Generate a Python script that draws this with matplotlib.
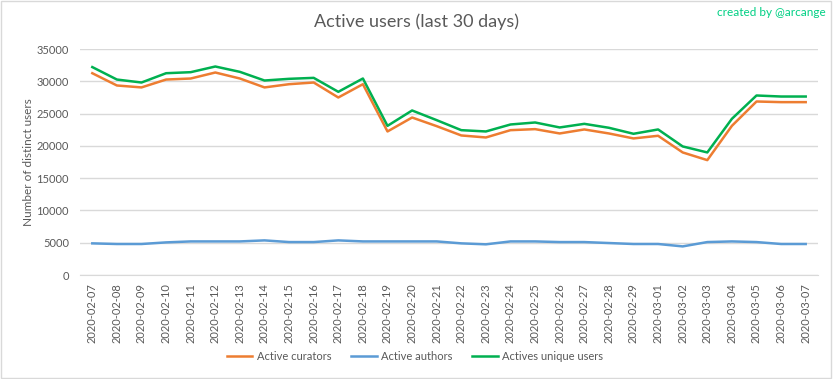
import matplotlib.pyplot as plt
from matplotlib.patches import Rectangle

dates = ["2020-02-07", "2020-02-08", "2020-02-09", "2020-02-10", "2020-02-11",
         "2020-02-12", "2020-02-13", "2020-02-14", "2020-02-15", "2020-02-16",
         "2020-02-17", "2020-02-18", "2020-02-19", "2020-02-20", "2020-02-21",
         "2020-02-22", "2020-02-23", "2020-02-24", "2020-02-25", "2020-02-26",
         "2020-02-27", "2020-02-28", "2020-02-29", "2020-03-01", "2020-03-02",
         "2020-03-03", "2020-03-04", "2020-03-05", "2020-03-06", "2020-03-07"]

curators = [31250, 29350, 29050, 30270, 30430, 31360, 30430, 29050, 29550, 29810,
            27490, 29550, 22230, 24390, 23050, 21610, 21300, 22430, 22590, 21920,
            22540, 21920, 21150, 21560, 18980, 17790, 23100, 26870, 26770, 26770]

authors = [4900, 4800, 4800, 5050, 5200, 5200, 5200, 5360, 5100, 5100,
           5360, 5200, 5200, 5200, 5200, 4900, 4750, 5200, 5200, 5100,
           5100, 4950, 4800, 4800, 4430, 5100, 5200, 5100, 4800, 4800]

unique_users = [32200, 30270, 29810, 31250, 31410, 32290, 31460, 30120, 30380, 30530,
                28370, 30430, 23100, 25480, 23980, 22430, 22230, 23310, 23620, 22850,
                23410, 22800, 21870, 22540, 19910, 18980, 24190, 27800, 27640, 27640]

plt.rcParams['font.family'] = ['Lato', 'DejaVu Sans']
text_gray = "#595959"

fig = plt.figure(figsize=(8.33, 3.79), dpi=100)
ax = fig.add_axes([80 / 833, 1 - 275 / 379, 738 / 833, 226 / 379])

x = list(range(len(dates)))
ax.plot(x, curators, color="#ED7D31", lw=1.8, label="Active curators")
ax.plot(x, authors, color="#5B9BD5", lw=1.8, label="Active authors")
ax.plot(x, unique_users, color="#00B050", lw=1.8, label="Actives unique users")

ax.set_xlim(-0.5, len(dates) - 0.5)
ax.set_ylim(0, 35000)
ax.set_yticks(range(0, 35001, 5000))
ax.set_xticks(x)
ax.set_xticklabels(dates, rotation=90, fontsize=8, color=text_gray)
ax.tick_params(axis="y", labelsize=8, labelcolor=text_gray, length=0, pad=8)
ax.tick_params(axis="x", length=0, pad=6)
ax.grid(axis="y", color="#d9d9d9", lw=1)
ax.set_axisbelow(True)
for s in ["top", "right", "left"]:
    ax.spines[s].set_visible(False)
ax.spines["bottom"].set_color("#d9d9d9")

ax.set_ylabel("Number of distinct users", fontsize=8.5, color=text_gray, labelpad=2)

fig.text(0.5, 1 - 22 / 379, "Active users (last 30 days)", ha="center", va="center",
         fontsize=13, color=text_gray)
fig.text(826 / 833, 1 - 13 / 379, "created by @arcange", ha="right", va="center",
         fontsize=8.5, color="#00D084")

leg = fig.legend(loc="center", bbox_to_anchor=(415 / 833, 1 - 356 / 379), ncol=3,
                 frameon=False, fontsize=8, handlelength=2.3, columnspacing=1.8,
                 handletextpad=0.4)
for t in leg.get_texts():
    t.set_color(text_gray)

fig.patches.append(Rectangle((0.001, 0.002), 0.997, 0.995, transform=fig.transFigure,
                             fill=False, edgecolor="#d9d9d9", lw=1))

fig.savefig("out.png", dpi=100)
